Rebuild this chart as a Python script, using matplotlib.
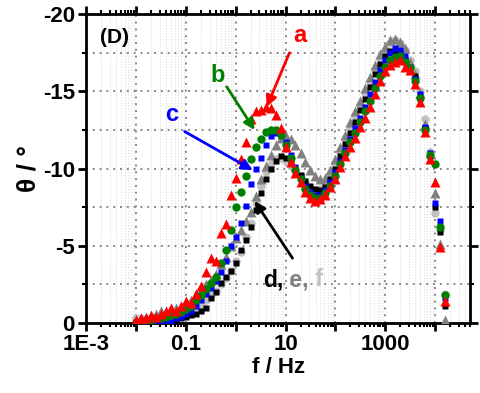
import matplotlib
matplotlib.use('Agg')
import matplotlib.pyplot as plt
import numpy as np
from matplotlib.offsetbox import TextArea, HPacker, AnnotationBbox

plt.rcParams['font.family'] = ['Liberation Sans', 'DejaVu Sans']
plt.rcParams['font.weight'] = 'bold'
plt.rcParams['axes.unicode_minus'] = False

# ~~~~~~~~~~~~~~~~~~~~~~~~~~~~~~~~~~   RAW  DATA   ~~~~~~~~~~~~~~~~~~~~~~~~~~~~~~~~~~
# frequency (Hz), ten points per decade
freq = [0.01, 0.0126, 0.0158, 0.02, 0.0251, 0.0316, 0.0398, 0.0501, 0.0631, 0.0794,
        0.1, 0.126, 0.158, 0.2, 0.251, 0.316, 0.398, 0.501, 0.631, 0.794,
        1.0, 1.26, 1.58, 2.0, 2.51, 3.16, 3.98, 5.01, 6.31, 7.94,
        10, 12.6, 15.8, 20, 25.1, 31.6, 39.8, 50.1, 63.1, 79.4,
        100, 126, 158, 200, 251, 316, 398, 501, 631, 794,
        1000, 1259, 1585, 1995, 2512, 3162, 3981, 5012, 6310, 7943,
        10000, 12589, 15849]

# phase angle theta (deg) for samples a-f
theta_a = -np.array([0.2, 0.3, 0.3, 0.5, 0.4, 0.6, 0.8, 1.0, 0.8, 1.1,
                     1.4, 1.3, 1.9, 2.4, 3.3, 4.2, 4.0, 5.8, 6.4, 8.3,
                     9.4, 10.6, 11.7, 13.2, 13.7, 13.8, 14.0, 13.9, 13.5, 12.6,
                     11.4, 10.4, 9.7, 9.1, 8.5, 8.1, 7.9, 8.0, 8.3, 8.8,
                     9.3, 10.1, 10.8, 11.4, 12.0, 12.7, 13.3, 14.0, 14.8, 15.7,
                     16.3, 16.7, 16.9, 17.0, 16.6, 16.4, 15.5, 14.3, 12.4, 10.6,
                     9.1, 4.9, 1.4])
theta_b = -np.array([0.1, 0.1, 0.2, 0.2, 0.3, 0.3, 0.4, 0.5, 0.6, 0.7,
                     0.9, 1.1, 1.5, 1.8, 2.2, 2.6, 3.0, 3.9, 4.7, 6.0,
                     7.5, 8.5, 9.5, 10.6, 11.4, 11.9, 12.4, 12.5, 12.5, 12.2,
                     11.5, 10.7, 9.9, 9.3, 8.7, 8.3, 8.1, 8.1, 8.4, 8.9,
                     9.5, 10.3, 11.0, 11.7, 12.3, 13.0, 13.7, 14.4, 15.2, 16.0,
                     16.6, 17.0, 17.2, 17.3, 16.9, 16.5, 15.7, 14.6, 12.5, 10.9,
                     10.3, 6.2, 1.8])
theta_c = -np.array([0.0, 0.0, 0.1, 0.1, 0.1, 0.1, 0.2, 0.1, 0.3, 0.4,
                     0.6, 0.8, 1.1, 1.5, 1.9, 2.3, 2.7, 3.3, 4.0, 5.0,
                     5.6, 6.5, 7.6, 9.0, 10.0, 10.7, 11.5, 12.1, 12.3, 12.2,
                     11.7, 10.9, 10.1, 9.4, 8.9, 8.5, 8.3, 8.3, 8.6, 9.1,
                     9.8, 10.5, 11.2, 11.9, 12.6, 13.3, 14.0, 14.8, 15.6, 16.4,
                     17.0, 17.5, 17.8, 17.7, 17.3, 16.6, 15.8, 14.8, 12.7, 11.0,
                     7.8, 6.6, 1.6])
theta_d = -np.array([0.0, 0.1, 0.0, 0.1, 0.0, 0.1, 0.0, 0.1, 0.2, 0.3,
                     0.4, 0.5, 0.6, 0.8, 1.0, 1.6, 2.0, 2.6, 3.0, 3.4,
                     3.9, 4.7, 5.4, 6.2, 7.3, 8.4, 9.3, 10.0, 10.5, 10.8,
                     10.7, 10.4, 10.0, 9.6, 9.2, 8.9, 8.7, 8.6, 8.8, 9.3,
                     10.0, 10.8, 11.6, 12.3, 13.0, 13.8, 14.5, 15.3, 16.1, 16.8,
                     17.3, 17.6, 17.6, 17.4, 17.0, 16.5, 16.0, 14.6, 12.6, 10.8,
                     7.5, 5.9, 1.1])
theta_e = -np.array([0.2, 0.3, 0.4, 0.4, 0.6, 0.8, 0.7, 0.9, 1.0, 1.1,
                     1.3, 1.5, 1.9, 2.1, 2.5, 2.8, 3.2, 3.8, 4.3, 5.0,
                     5.5, 6.0, 6.6, 7.2, 8.2, 9.3, 10.2, 10.9, 11.5, 12.0,
                     12.1, 11.9, 11.5, 11.0, 10.4, 9.9, 9.5, 9.3, 9.4, 9.9,
                     10.6, 11.4, 12.2, 13.0, 13.7, 14.4, 15.2, 15.9, 16.7, 17.4,
                     17.9, 18.3, 18.4, 18.2, 17.8, 16.9, 16.1, 14.9, 12.9, 11.0,
                     8.4, 5.1, 0.2])
theta_f = -np.array([0.3, 0.3, 0.2, 0.3, 0.4, 0.4, 0.5, 0.5, 0.6, 0.6,
                     0.7, 0.8, 1.0, 1.2, 1.5, 1.8, 2.1, 2.5, 2.9, 3.4,
                     4.0, 4.6, 5.6, 6.5, 7.8, 8.9, 9.8, 10.3, 10.6, 10.7,
                     10.5, 10.2, 9.9, 9.5, 9.1, 8.8, 8.6, 8.7, 9.0, 9.6,
                     10.3, 11.1, 11.9, 12.7, 13.4, 14.1, 14.9, 15.6, 16.4, 17.1,
                     17.7, 18.1, 18.3, 18.1, 17.7, 17.0, 16.3, 15.0, 13.2, 11.1,
                     7.1, 6.0, 1.9])

xtick_vals = [1e-3, 1e-2, 0.1, 1, 10, 100, 1000, 1e4]
xtick_labels = ['1E-3', '', '0.1', '', '10', '', '1000', '']
ytick_vals = [0, -5, -10, -15, -20]

# ~~~~~~~~~~~~~~~~~~~~~~~~~~~~~~~~~~ MAKE GRAPH  ~~~~~~~~~~~~~~~~~~~~~~~~~~~~~~~~~~
fig = plt.figure(figsize=(4.81, 3.93), dpi=100)
ax = fig.add_axes([0.179, 0.178, 0.798, 0.786])

red, green, blue = '#ff0000', '#008000', '#0000ff'
black, gray, lgray = '#000000', '#808080', '#c0c0c0'

ax.plot(freq, theta_f, 'o', color=lgray, ms=6, mec='none', zorder=3)
ax.plot(freq, theta_e, '^', color=gray, ms=6.5, mec='none', zorder=3)
ax.plot(freq, theta_d, 's', color=black, ms=5, mec='none', zorder=3)
ax.plot(freq, theta_c, 's', color=blue, ms=5, mec='none', zorder=3)
ax.plot(freq, theta_b, 'o', color=green, ms=6, mec='none', zorder=3)
ax.plot(freq, theta_a, '^', color=red, ms=6.5, mec='none', zorder=3)

ax.set_xscale('log')
ax.set_xlim(1e-3, 5e4)
ax.set_ylim(0, -20)

ax.set_xticks(xtick_vals)
ax.set_xticklabels(xtick_labels)
ax.xaxis.set_minor_locator(matplotlib.ticker.LogLocator(base=10, subs=np.arange(2, 10), numticks=20))
ax.xaxis.set_minor_formatter(matplotlib.ticker.NullFormatter())
ax.set_yticks(ytick_vals)
ax.set_yticks([-2.5, -7.5, -12.5, -17.5], minor=True)

# grid
ax.grid(which='major', axis='x', color='#888888', linestyle=(0, (1, 2.5)), lw=1.4, zorder=0)
ax.grid(which='minor', axis='x', color='#dddddd', linestyle=(0, (1, 1.5)), lw=0.8, zorder=0)
ax.grid(which='both', axis='y', color='#888888', linestyle=(0, (1, 2.5)), lw=1.4, zorder=0)
ax.set_axisbelow(True)

for s in ax.spines.values():
    s.set_linewidth(2)
ax.tick_params(which='major', direction='out', length=6, width=2, labelsize=16,
               top=True, right=True, pad=2)
ax.tick_params(which='minor', direction='out', length=3, width=1.5, top=True, right=True)
for lab in ax.get_xticklabels() + ax.get_yticklabels():
    lab.set_fontweight('bold')

ax.set_xlabel('f / Hz', fontsize=16, fontweight='bold', labelpad=1)
ax.set_ylabel('θ / °', fontsize=19, fontweight='bold', labelpad=2)

ax.text(0.075, 0.925, '(D)', transform=ax.transAxes, ha='center', va='center',
        fontsize=15, fontweight='bold')

# labels and arrows
arrow_kw = dict(arrowstyle='-|>', lw=2, mutation_scale=16, shrinkA=0, shrinkB=0)
ax.text(19, -18.6, 'a', color=red, fontsize=17, fontweight='bold', ha='center', va='center')
ax.annotate('', xy=(4.2, -14.0), xytext=(12, -17.5), arrowprops=dict(color=red, **arrow_kw))
ax.text(0.44, -16.0, 'b', color=green, fontsize=17, fontweight='bold', ha='center', va='center')
ax.annotate('', xy=(2.4, -12.5), xytext=(0.66, -15.3), arrowprops=dict(color=green, **arrow_kw))
ax.text(0.052, -13.5, 'c', color=blue, fontsize=17, fontweight='bold', ha='center', va='center')
ax.annotate('', xy=(2.2, -9.9), xytext=(0.095, -12.4), arrowprops=dict(color=blue, **arrow_kw))
ax.annotate('', xy=(2.4, -7.9), xytext=(13.8, -4.2), arrowprops=dict(color=black, **arrow_kw))

parts = [TextArea(t, textprops=dict(color=c, fontsize=16.5, fontweight='bold'))
         for t, c in [('d,', black), (' e,', gray), (' f', lgray)]]
box = HPacker(children=parts, align='baseline', pad=0, sep=0)
ab = AnnotationBbox(box, (3.5, -2.8), frameon=False, box_alignment=(0, 0.5), pad=0)
ax.add_artist(ab)

fig.savefig('out.png', dpi=100)
